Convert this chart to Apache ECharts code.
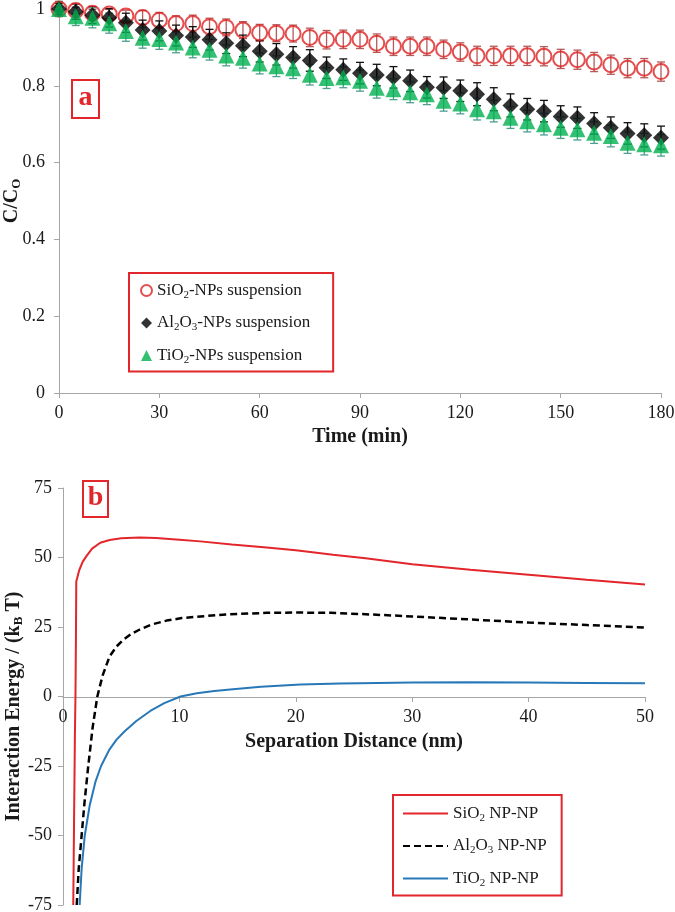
<!DOCTYPE html>
<html>
<head>
<meta charset="utf-8">
<script src="https://cdn.jsdelivr.net/npm/echarts@6/dist/echarts.min.js"></script>
<style>html,body{margin:0;padding:0;background:#fff}#c{width:675px;height:912px}</style>
</head>
<body>
<div id="c"></div>
<script>
// ---------- Panel a data ----------
const TIME = [0,5,10,15,20,25,30,35,40,45,50,55,60,65,70,75,80,85,90,95,100,105,110,115,120,125,130,135,140,145,150,155,160,165,170,175,180];
const SIO2_C = [1.0,0.996,0.989,0.987,0.982,0.978,0.971,0.962,0.962,0.954,0.952,0.945,0.938,0.937,0.936,0.926,0.920,0.921,0.921,0.911,0.903,0.903,0.903,0.895,0.888,0.878,0.878,0.878,0.878,0.877,0.870,0.868,0.862,0.855,0.846,0.846,0.837];
const AL2O3_C = [1.0,0.993,0.984,0.977,0.964,0.945,0.943,0.931,0.927,0.920,0.911,0.904,0.890,0.882,0.874,0.866,0.847,0.842,0.833,0.828,0.822,0.813,0.796,0.795,0.787,0.778,0.765,0.749,0.739,0.734,0.720,0.717,0.702,0.691,0.676,0.671,0.665];
const TIO2_C = [1.0,0.981,0.977,0.963,0.943,0.925,0.922,0.913,0.900,0.894,0.879,0.873,0.858,0.851,0.846,0.829,0.820,0.822,0.813,0.795,0.791,0.783,0.778,0.761,0.754,0.739,0.734,0.717,0.708,0.700,0.691,0.687,0.678,0.669,0.652,0.648,0.645];
const SIO2_ERR = [0.005,0.008,0.010,0.012,0.015,0.018,0.020,0.020,0.022,0.022,0.022,0.022,0.022,0.022,0.022,0.024,0.024,0.024,0.024,0.024,0.024,0.024,0.024,0.024,0.024,0.025,0.025,0.025,0.025,0.025,0.025,0.025,0.025,0.025,0.025,0.025,0.025];
const AL2O3_ERR = [0.015,0.020,0.022,0.024,0.025,0.026,0.026,0.027,0.027,0.027,0.027,0.028,0.028,0.028,0.028,0.028,0.028,0.028,0.028,0.028,0.028,0.028,0.028,0.028,0.028,0.030,0.030,0.030,0.028,0.028,0.028,0.028,0.028,0.028,0.028,0.030,0.030];
const TIO2_ERR = [0.020,0.024,0.026,0.026,0.027,0.027,0.027,0.027,0.027,0.027,0.027,0.027,0.027,0.027,0.027,0.027,0.027,0.027,0.027,0.027,0.027,0.027,0.027,0.027,0.027,0.028,0.028,0.028,0.028,0.028,0.028,0.028,0.028,0.028,0.028,0.028,0.028];
const A_X_TICKS = [0,30,60,90,120,150,180];
const A_Y_TICKS = [0,0.2,0.4,0.6,0.8,1];

// ---------- Panel b data (distance nm, energy kT) ----------
const SIO2_NP = [[0.88,-75],[0.95,-45],[1.02,-15],[1.07,0],[1.11,20],[1.14,41.4],[1.4,45.5],[1.7,48.5],[2.03,50.6],[2.5,53.2],[3.2,55.3],[4,56.3],[5,56.9],[6.6,57.2],[8,57.0],[10,56.4],[11.8,55.8],[14.5,54.7],[17.5,53.6],[20,52.6],[23.2,51.0],[26,49.7],[30,47.6],[35,45.6],[40,43.8],[45,42.0],[50,40.3]];
const AL2O3_NP = [[1.18,-75],[1.35,-62],[1.6,-50],[1.85,-38],[2.17,-25],[2.55,-11],[2.95,0],[3.4,7.5],[4.0,14.4],[4.6,18.0],[5.2,20.5],[5.9,22.6],[6.6,24.1],[7.6,25.9],[8.9,27.3],[10.2,28.2],[11.8,28.8],[14,29.5],[17.5,30.1],[20,30.2],[23,30.1],[26,29.6],[30,28.8],[35,27.7],[40,26.6],[45,25.7],[50,24.8]];
const TIO2_NP = [[1.43,-75],[1.6,-62],[1.87,-50],[2.3,-39],[2.8,-30.5],[3.27,-25],[4.0,-19],[4.6,-15.5],[5.3,-12.5],[6.3,-8.8],[7.5,-5.2],[8.7,-2.4],[10.1,0],[11.5,1.2],[13,2.0],[14.6,2.6],[17,3.5],[20.4,4.3],[23.8,4.7],[27,4.9],[30,5.0],[35,5.1],[40,5.0],[45,4.9],[50,4.8]];
const B_X_TICKS = [0,10,20,30,40,50];
const B_Y_TICKS = [-75,-50,-25,0,25,50,75];

const FONT = '"Liberation Serif","Times New Roman",serif';
const RED = '#e2262b';
const GREEN = '#00b050';
const BLUE = '#2878b8';
const AXIS_GRAY = '#a6a6a6';
const TXT = '#1a1a1a';

function errData(v, e) { return TIME.map((t, i) => [t, v[i] - e[i], v[i] + e[i]]); }
function errRender(color) {
  return function (params, api) {
    const x = api.value(0);
    const p1 = api.coord([x, api.value(1)]);
    const p2 = api.coord([x, api.value(2)]);
    const cw = 4;
    const st = { stroke: color, lineWidth: 1.3 };
    return {
      type: 'group',
      children: [
        { type: 'line', shape: { x1: p1[0], y1: p1[1], x2: p2[0], y2: p2[1] }, style: st },
        { type: 'line', shape: { x1: p1[0] - cw, y1: p1[1], x2: p1[0] + cw, y2: p1[1] }, style: st },
        { type: 'line', shape: { x1: p2[0] - cw, y1: p2[1], x2: p2[0] + cw, y2: p2[1] }, style: st }
      ]
    };
  };
}

const LEG_A = {
  'SiO2-NPs suspension': '{n|SiO}{s|2}{n|-NPs suspension}',
  'Al2O3-NPs suspension': '{n|Al}{s|2}{n|O}{s|3}{n|-NPs suspension}',
  'TiO2-NPs suspension': '{n|TiO}{s|2}{n|-NPs suspension}'
};
const LEG_B = {
  'SiO2 NP-NP': '{n|SiO}{s|2}{n| NP-NP}',
  'Al2O3 NP-NP': '{n|Al}{s|2}{n|O}{s|3}{n| NP-NP}',
  'TiO2 NP-NP': '{n|TiO}{s|2}{n| NP-NP}'
};
const RICH = {
  n: { fontFamily: FONT, fontSize: 17, color: TXT, lineHeight: 20, verticalAlign: 'middle' },
  s: { fontFamily: FONT, fontSize: 11, color: TXT, lineHeight: 11, verticalAlign: 'bottom' }
};
const NAME_RICH = {
  b: { fontFamily: FONT, fontSize: 20, fontWeight: 'bold', color: TXT, lineHeight: 22, verticalAlign: 'middle' },
  s: { fontFamily: FONT, fontSize: 13, fontWeight: 'bold', color: TXT, lineHeight: 13, verticalAlign: 'bottom' }
};

function valueAxisCommon() {
  return {
    type: 'value',
    splitLine: { show: false },
    nameMoveOverlap: false,
    axisLine: { show: true, onZero: false, lineStyle: { color: AXIS_GRAY, width: 1 } },
    axisTick: { show: true, inside: false, length: 5, lineStyle: { color: AXIS_GRAY } },
    nameTextStyle: { fontFamily: FONT, fontSize: 20, fontWeight: 'bold', color: TXT }
  };
}

const chart = echarts.init(document.getElementById('c'), null, { renderer: 'canvas' });
chart.setOption({
  animation: false,
  backgroundColor: '#ffffff',
  grid: [
    { left: 59, top: 9, width: 602, height: 384, containLabel: false, outerBoundsMode: 'none' },
    { left: 63, top: 488, width: 582, height: 417, containLabel: false, outerBoundsMode: 'none' }
  ],
  xAxis: [
    Object.assign(valueAxisCommon(), {
      gridIndex: 0, min: A_X_TICKS[0], max: A_X_TICKS[A_X_TICKS.length - 1], interval: 30,
      name: 'Time (min)', nameLocation: 'middle', nameGap: 34,
      axisLabel: { fontFamily: FONT, fontSize: 18, color: TXT, margin: 11 }
    }),
    Object.assign(valueAxisCommon(), {
      gridIndex: 1, min: B_X_TICKS[0], max: B_X_TICKS[B_X_TICKS.length - 1], interval: 10,
      position: 'bottom', offset: -208,
      name: 'Separation Distance (nm)', nameLocation: 'middle', nameGap: 35,
      axisLabel: { fontFamily: FONT, fontSize: 18, color: TXT, margin: 11 }
    })
  ],
  yAxis: [
    Object.assign(valueAxisCommon(), {
      gridIndex: 0, min: A_Y_TICKS[0], max: A_Y_TICKS[A_Y_TICKS.length - 1], interval: 0.2,
      name: '{b|C/C}{s|O}', nameLocation: 'middle', nameGap: 36,
      nameTextStyle: { rich: NAME_RICH },
      axisLabel: { fontFamily: FONT, fontSize: 18, color: TXT, margin: 14 }
    }),
    Object.assign(valueAxisCommon(), {
      gridIndex: 1, min: B_Y_TICKS[0], max: B_Y_TICKS[B_Y_TICKS.length - 1], interval: 25,
      name: '{b|Interaction Energy / (k}{s|B}{b| T)}', nameLocation: 'middle', nameGap: 38,
      nameTextStyle: { rich: NAME_RICH, padding: [0, 20, 0, 0] },
      axisLabel: { fontFamily: FONT, fontSize: 18, color: TXT, margin: 11 }
    })
  ],
  legend: [
    {
      left: 129, top: 273, orient: 'vertical',
      data: ['SiO2-NPs suspension', 'Al2O3-NPs suspension', 'TiO2-NPs suspension'],
      borderColor: RED, borderWidth: 2, padding: [9, 23, 6, 11], itemGap: 14,
      itemWidth: 11, itemHeight: 11,
      formatter: n => LEG_A[n],
      textStyle: { rich: RICH, fontFamily: FONT, fontSize: 17 }
    },
    {
      left: 393, top: 795, orient: 'vertical',
      data: ['SiO2 NP-NP', 'Al2O3 NP-NP', 'TiO2 NP-NP'],
      borderColor: RED, borderWidth: 2, padding: [10, 15, 7, 9], itemGap: 14,
      itemWidth: 45, itemHeight: 14,
      itemStyle: { opacity: 0 },
      lineStyle: { opacity: 1 },
      formatter: n => LEG_B[n],
      textStyle: { rich: RICH, fontFamily: FONT, fontSize: 17 }
    }
  ],
  graphic: [
    { type: 'rect', shape: { x: 72, y: 80, width: 27, height: 38 }, style: { fill: '#fff', stroke: RED, lineWidth: 2 }, z: 10 },
    { type: 'text', x: 85.5, y: 98, style: { text: 'a', font: 'bold 28px "Liberation Serif"', fill: RED, align: 'center', verticalAlign: 'middle' }, z: 11 },
    { type: 'rect', shape: { x: 83, y: 481, width: 25, height: 36 }, style: { fill: '#fff', stroke: RED, lineWidth: 2 }, z: 10 },
    { type: 'text', x: 95.5, y: 498, style: { text: 'b', font: 'bold 28px "Liberation Serif"', fill: RED, align: 'center', verticalAlign: 'middle' }, z: 11 }
  ],
  series: [
    { type: 'custom', name: 'errSiO2', xAxisIndex: 0, yAxisIndex: 0, data: errData(SIO2_C, SIO2_ERR), renderItem: errRender('#b55a5a'), encode: { x: 0, y: [1, 2] }, z: 1, silent: true },
    { type: 'custom', name: 'errAl2O3', xAxisIndex: 0, yAxisIndex: 0, data: errData(AL2O3_C, AL2O3_ERR), renderItem: errRender('#111111'), encode: { x: 0, y: [1, 2] }, z: 1, silent: true },
    { type: 'custom', name: 'errTiO2', xAxisIndex: 0, yAxisIndex: 0, data: errData(TIO2_C, TIO2_ERR), renderItem: errRender('#4f9e8f'), encode: { x: 0, y: [1, 2] }, z: 1, silent: true },
    { type: 'scatter', name: 'SiO2-NPs suspension', xAxisIndex: 0, yAxisIndex: 0, z: 2,
      data: TIME.map((t, i) => [t, SIO2_C[i]]), symbol: 'circle', symbolSize: 15,
      itemStyle: { color: 'rgba(255,255,255,0)', borderColor: '#dd2222', borderWidth: 2 } },
    { type: 'scatter', name: 'Al2O3-NPs suspension', xAxisIndex: 0, yAxisIndex: 0, z: 3,
      data: TIME.map((t, i) => [t, AL2O3_C[i]]), symbol: 'diamond', symbolSize: 16,
      itemStyle: { color: '#000000' } },
    { type: 'scatter', name: 'TiO2-NPs suspension', xAxisIndex: 0, yAxisIndex: 0, z: 4,
      data: TIME.map((t, i) => [t, TIO2_C[i]]), symbol: 'triangle', symbolSize: 16,
      itemStyle: { color: GREEN } },
    { type: 'line', name: 'SiO2 NP-NP', xAxisIndex: 1, yAxisIndex: 1, data: SIO2_NP, symbol: 'none', smooth: false,
      lineStyle: { color: RED, width: 2 }, itemStyle: { color: RED } },
    { type: 'line', name: 'Al2O3 NP-NP', xAxisIndex: 1, yAxisIndex: 1, data: AL2O3_NP, symbol: 'none', smooth: false,
      lineStyle: { color: '#000000', width: 2.5, type: [7, 4] }, itemStyle: { color: '#000000' } },
    { type: 'line', name: 'TiO2 NP-NP', xAxisIndex: 1, yAxisIndex: 1, data: TIO2_NP, symbol: 'none', smooth: false,
      lineStyle: { color: BLUE, width: 2 }, itemStyle: { color: BLUE } }
  ]
});
</script>
</body>
</html>
